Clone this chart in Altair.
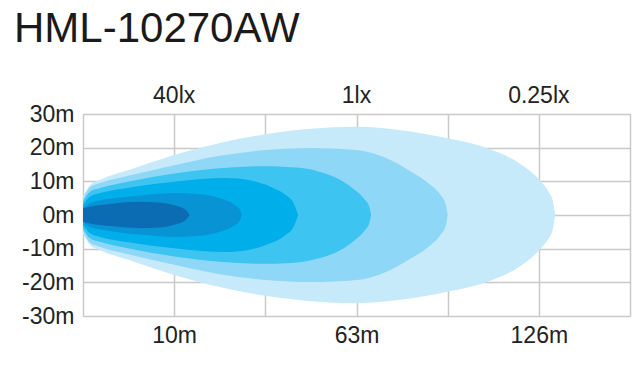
import altair as alt
import pandas as pd

title_text = "HML-10270AW"

# bottom (distance) and top (illuminance) tick labels at grid columns
x_tick_pos = [1, 3, 5]
x_dist_labels = ["10m", "63m", "126m"]
x_lux_labels = ["40lx", "1lx", "0.25lx"]
y_ticks = [-30, -20, -10, 0, 10, 20, 30]

# beam lobes, outermost first; x in grid columns (0..6), half-width in metres
layer_names = ["L6", "L5", "L4", "L3", "L2", "L1"]
layer_colors = ["#c6eafa", "#8fd7f6", "#3ec4f1", "#00aeea", "#0893d5", "#0b6cb4"]

L6_x = [0, 0.08, 0.19, 0.52, 1.0, 1.5, 2.0, 2.5, 3.0, 3.48, 4.0, 4.49, 4.79, 5.01, 5.1, 5.15, 5.18]
L6_w = [5.5, 9, 10.5, 13.5, 17.8, 21.4, 24, 25.6, 26.2, 25.2, 22.8, 19.3, 15.3, 10.3, 7.2, 4.5, 0]

L5_x = [0, 0.08, 0.19, 0.52, 1.0, 1.5, 2.0, 2.5, 3.0, 3.3, 3.59, 3.81, 3.92, 3.98, 4.0]
L5_w = [4.8, 8.3, 9.5, 11.8, 14.8, 17.6, 19.3, 19.9, 19.3, 17.2, 13, 9, 6, 3, 0]

L4_x = [0, 0.08, 0.19, 0.52, 1.0, 1.5, 2.0, 2.38, 2.6, 2.82, 2.98, 3.09, 3.14, 3.16]
L4_w = [4, 7, 8, 10, 12.3, 13.9, 14.5, 14, 12.8, 10.5, 7.5, 4.6, 2.5, 0]

L3_x = [0, 0.08, 0.19, 0.52, 1.0, 1.3, 1.56, 1.83, 2.05, 2.22, 2.31, 2.36]
L3_w = [3, 5.5, 6.5, 8.2, 9.9, 10.7, 11, 10.3, 8.5, 6, 3.5, 0]

L2_x = [0, 0.08, 0.30, 0.63, 1.01, 1.28, 1.50, 1.65, 1.72, 1.74]
L2_w = [2, 3.6, 4.8, 5.8, 6.5, 6.2, 5, 3.3, 1.6, 0]

L1_x = [0, 0.08, 0.30, 0.63, 0.84, 1.01, 1.12, 1.17]
L1_w = [2, 2.5, 3.3, 3.9, 3.7, 2.8, 1.6, 0]

series = {
    "L6": (L6_x, L6_w), "L5": (L5_x, L5_w), "L4": (L4_x, L4_w),
    "L3": (L3_x, L3_w), "L2": (L2_x, L2_w), "L1": (L1_x, L1_w),
}

rows = []
for name, (xs, ws) in series.items():
    for xv, wv in zip(xs, ws):
        rows.append({"lobe": name, "u": xv, "w": wv, "nw": -wv})
df = pd.DataFrame(rows)
lux_df = pd.DataFrame({"u": x_tick_pos, "lux": x_lux_labels})


def label_expr(labels):
    expr = "''"
    for p, lab in zip(reversed(x_tick_pos), reversed(labels)):
        expr = f"datum.value == {p} ? '{lab}' : ({expr})"
    return expr


FONT = "Liberation Sans"
GRID = "#c9c9c9"
xscale = alt.Scale(domain=[0, 6], nice=False, zero=False)
yscale = alt.Scale(domain=[-30, 30], nice=False)

x_bottom = alt.X(
    "u:Q", scale=xscale, title=None,
    axis=alt.Axis(values=list(range(7)), labelExpr=label_expr(x_dist_labels),
                  grid=True, gridColor=GRID, gridWidth=1.5, domain=False, ticks=False,
                  labelFont=FONT, labelFontSize=23, labelColor="#222222",
                  labelPadding=8, labelFlush=False, labelOverlap=False),
)

y_axis = alt.Axis(values=y_ticks, labelExpr="datum.value + 'm'",
                  grid=True, gridColor=GRID, gridWidth=1.5, domain=False, ticks=False,
                  labelFont=FONT, labelFontSize=23, labelColor="#222222",
                  labelPadding=9, labelFlush=False, labelOverlap=False)

areas = (
    alt.Chart(df)
    .mark_area(interpolate="monotone", opacity=1)
    .encode(
        x=x_bottom,
        y=alt.Y("w:Q", scale=yscale, title=None, axis=y_axis),
        y2="nw:Q",
        color=alt.Color("lobe:N", scale=alt.Scale(domain=layer_names, range=layer_colors),
                        legend=None, sort=layer_names),
    )
)

lux_text = (
    alt.Chart(lux_df)
    .mark_text(font=FONT, fontSize=23, color="#222222", baseline="bottom", align="center", dy=-6)
    .encode(x=alt.X("u:Q", scale=xscale), y=alt.value(0), text="lux:N")
)

chart = (
    alt.layer(areas, lux_text)
    .properties(
        width=547, height=202,
        title=alt.TitleParams(title_text, anchor="start", frame="group", dx=-69,
                              offset=34, font=FONT, fontSize=42, fontWeight="normal",
                              color="#1a1a1a"),
        autosize=alt.AutoSizeParams(type="none"),
        padding={"left": 83, "top": 114, "right": 10, "bottom": 58},
    )
    .configure_view(stroke=None)
    .configure(background="white")
)

chart.save("out.html", embed_options={"renderer": "svg", "actions": False})
